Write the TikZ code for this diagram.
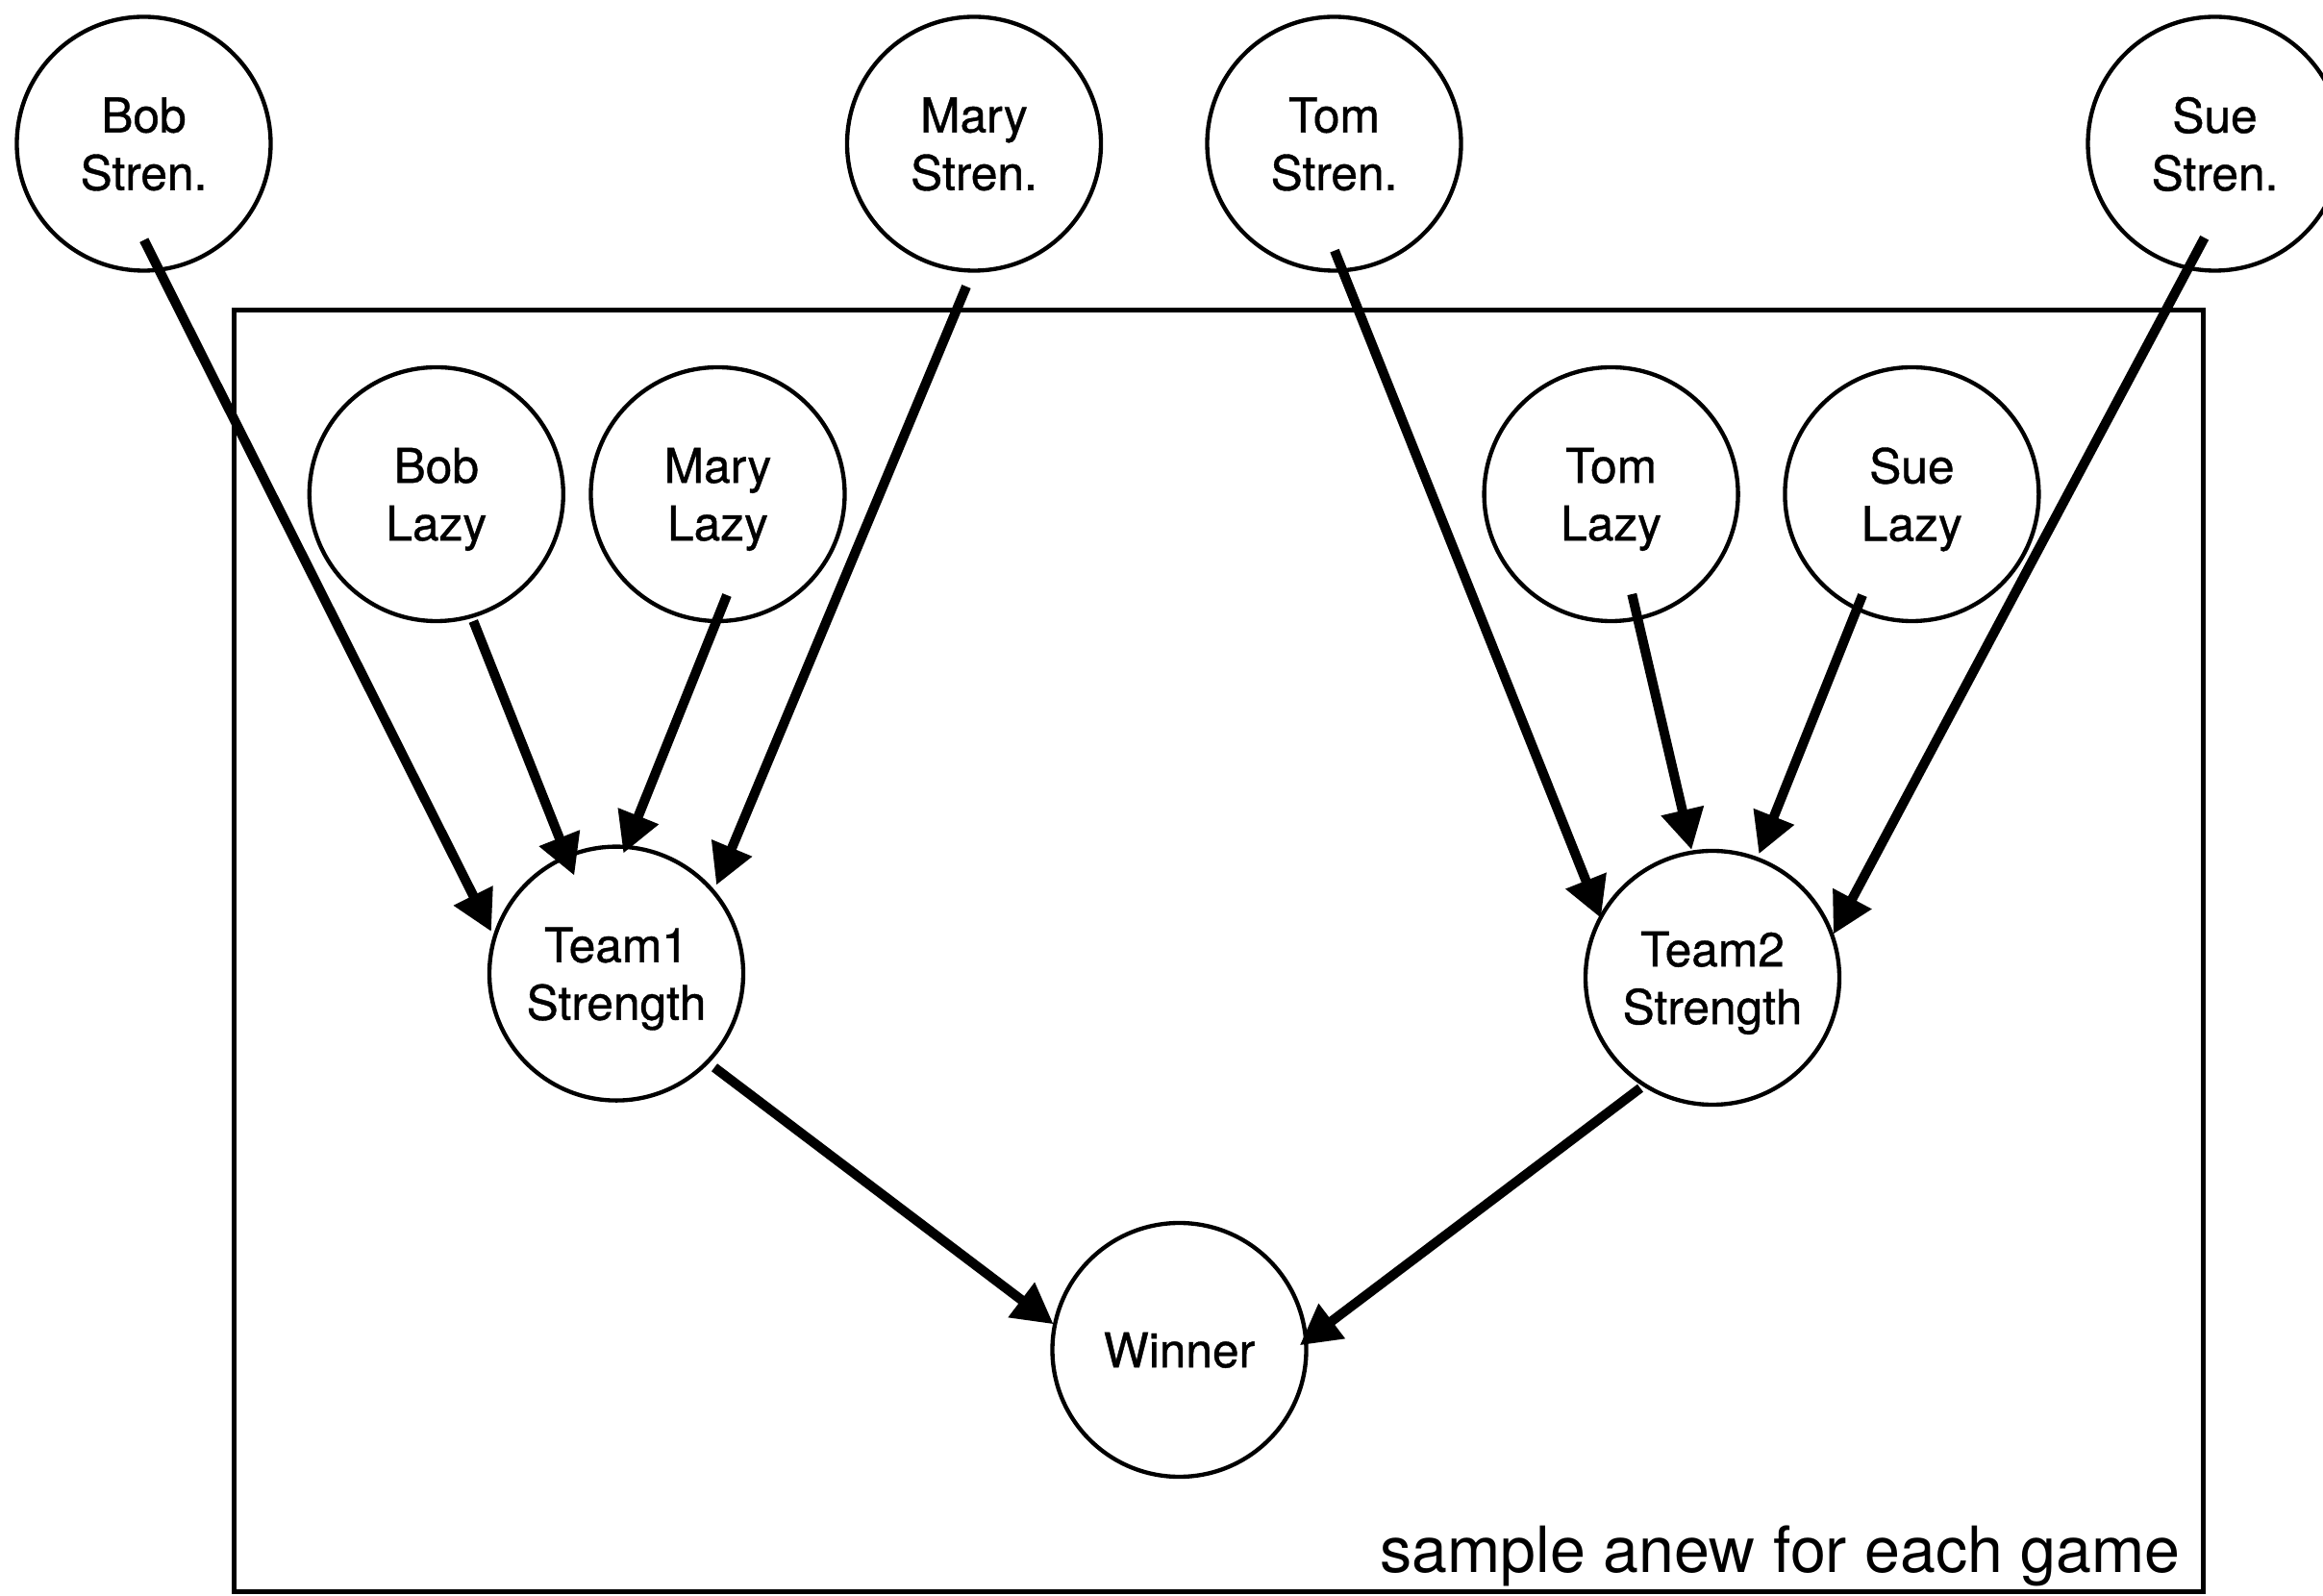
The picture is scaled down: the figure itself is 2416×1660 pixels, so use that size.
\documentclass[tikz,border=0pt]{standalone}
\usepackage{fontspec}
\setmainfont{TeX Gyre Heros}
\newfontfamily\nodefont[FakeBold=0.8]{TeX Gyre Heros}
\usetikzlibrary{arrows.meta}

\begin{document}
\begin{tikzpicture}[
  x=0.3pt, y=-0.3pt,
  vnode/.style={circle, draw, line width=1.3pt, minimum size=79.2pt, inner sep=0pt,
    align=center, text depth=0pt, font=\nodefont\fontsize{14.9pt}{18pt}\selectfont},
  arr/.style={line width=3pt, -{Triangle[length=12.6pt,width=12.9pt]}},
  plate/.style={draw, line width=1.5pt}
]
\useasboundingbox (0,0) rectangle (2416,1660);
\clip (0,0) rectangle (2416,1660);

% plate for the per-game variables
\draw[plate] (243,323) rectangle (2291,1655);
\node[anchor=base east, font=\fontsize{19.9pt}{24pt}\selectfont] (platelabel) at (2279,1635) {sample anew for each game};

% persistent strengths
\node[vnode] (bobS)  at (149.5,149.5) {Bob\\Stren.};
\node[vnode] (maryS) at (1013,149.5)  {Mary\\Stren.};
\node[vnode] (tomS)  at (1387.5,149.5) {Tom\\Stren.};
\node[vnode] (sueS)  at (2303.5,149.5) {Sue\\Stren.};

% laziness, sampled per game
\node[vnode] (bobL)  at (453.8,514)  {Bob\\Lazy};
\node[vnode] (maryL) at (746.5,514)  {Mary\\Lazy};
\node[vnode] (tomL)  at (1675.6,514) {Tom\\Lazy};
\node[vnode] (sueL)  at (1988.4,514) {Sue\\Lazy};

% team strengths and outcome
\node[vnode] (team1)  at (641,1012.6) {Team1\\Strength};
\node[vnode] (team2)  at (1781,1017)  {Team2\\Strength};
\node[vnode] (winner) at (1226.5,1404) {Winner};

% dependencies
\draw[arr] ([shift={(0.3,100.2)}]bobS.center)  -- ([shift={(-130,-43.6)}]team1.center);
\draw[arr] ([shift={(38.5,132)}]bobL.center)   -- ([shift={(-43.7,-101.9)}]team1.center);
\draw[arr] ([shift={(9.5,105)}]maryL.center)   -- ([shift={(7.3,-124.9)}]team1.center);
\draw[arr] ([shift={(-8,148.5)}]maryS.center)  -- ([shift={(104,-91.9)}]team1.center);

\draw[arr] ([shift={(0.5,111.2)}]tomS.center)  -- ([shift={(-116,-62)}]team2.center);
\draw[arr] ([shift={(21.7,104)}]tomL.center)   -- ([shift={(-21.7,-133)}]team2.center);
\draw[arr] ([shift={(-51.4,105)}]sueL.center)  -- ([shift={(48.3,-128.7)}]team2.center);
\draw[arr] ([shift={(-10.8,97.8)}]sueS.center) -- ([shift={(125.7,-45.3)}]team2.center);

\draw[arr] ([shift={(102,97.7)}]team1.center)  -- ([shift={(-130.8,-26.7)}]winner.center);
\draw[arr] ([shift={(-75,114.7)}]team2.center) -- ([shift={(125.2,-4.7)}]winner.center);
\end{tikzpicture}
\end{document}
